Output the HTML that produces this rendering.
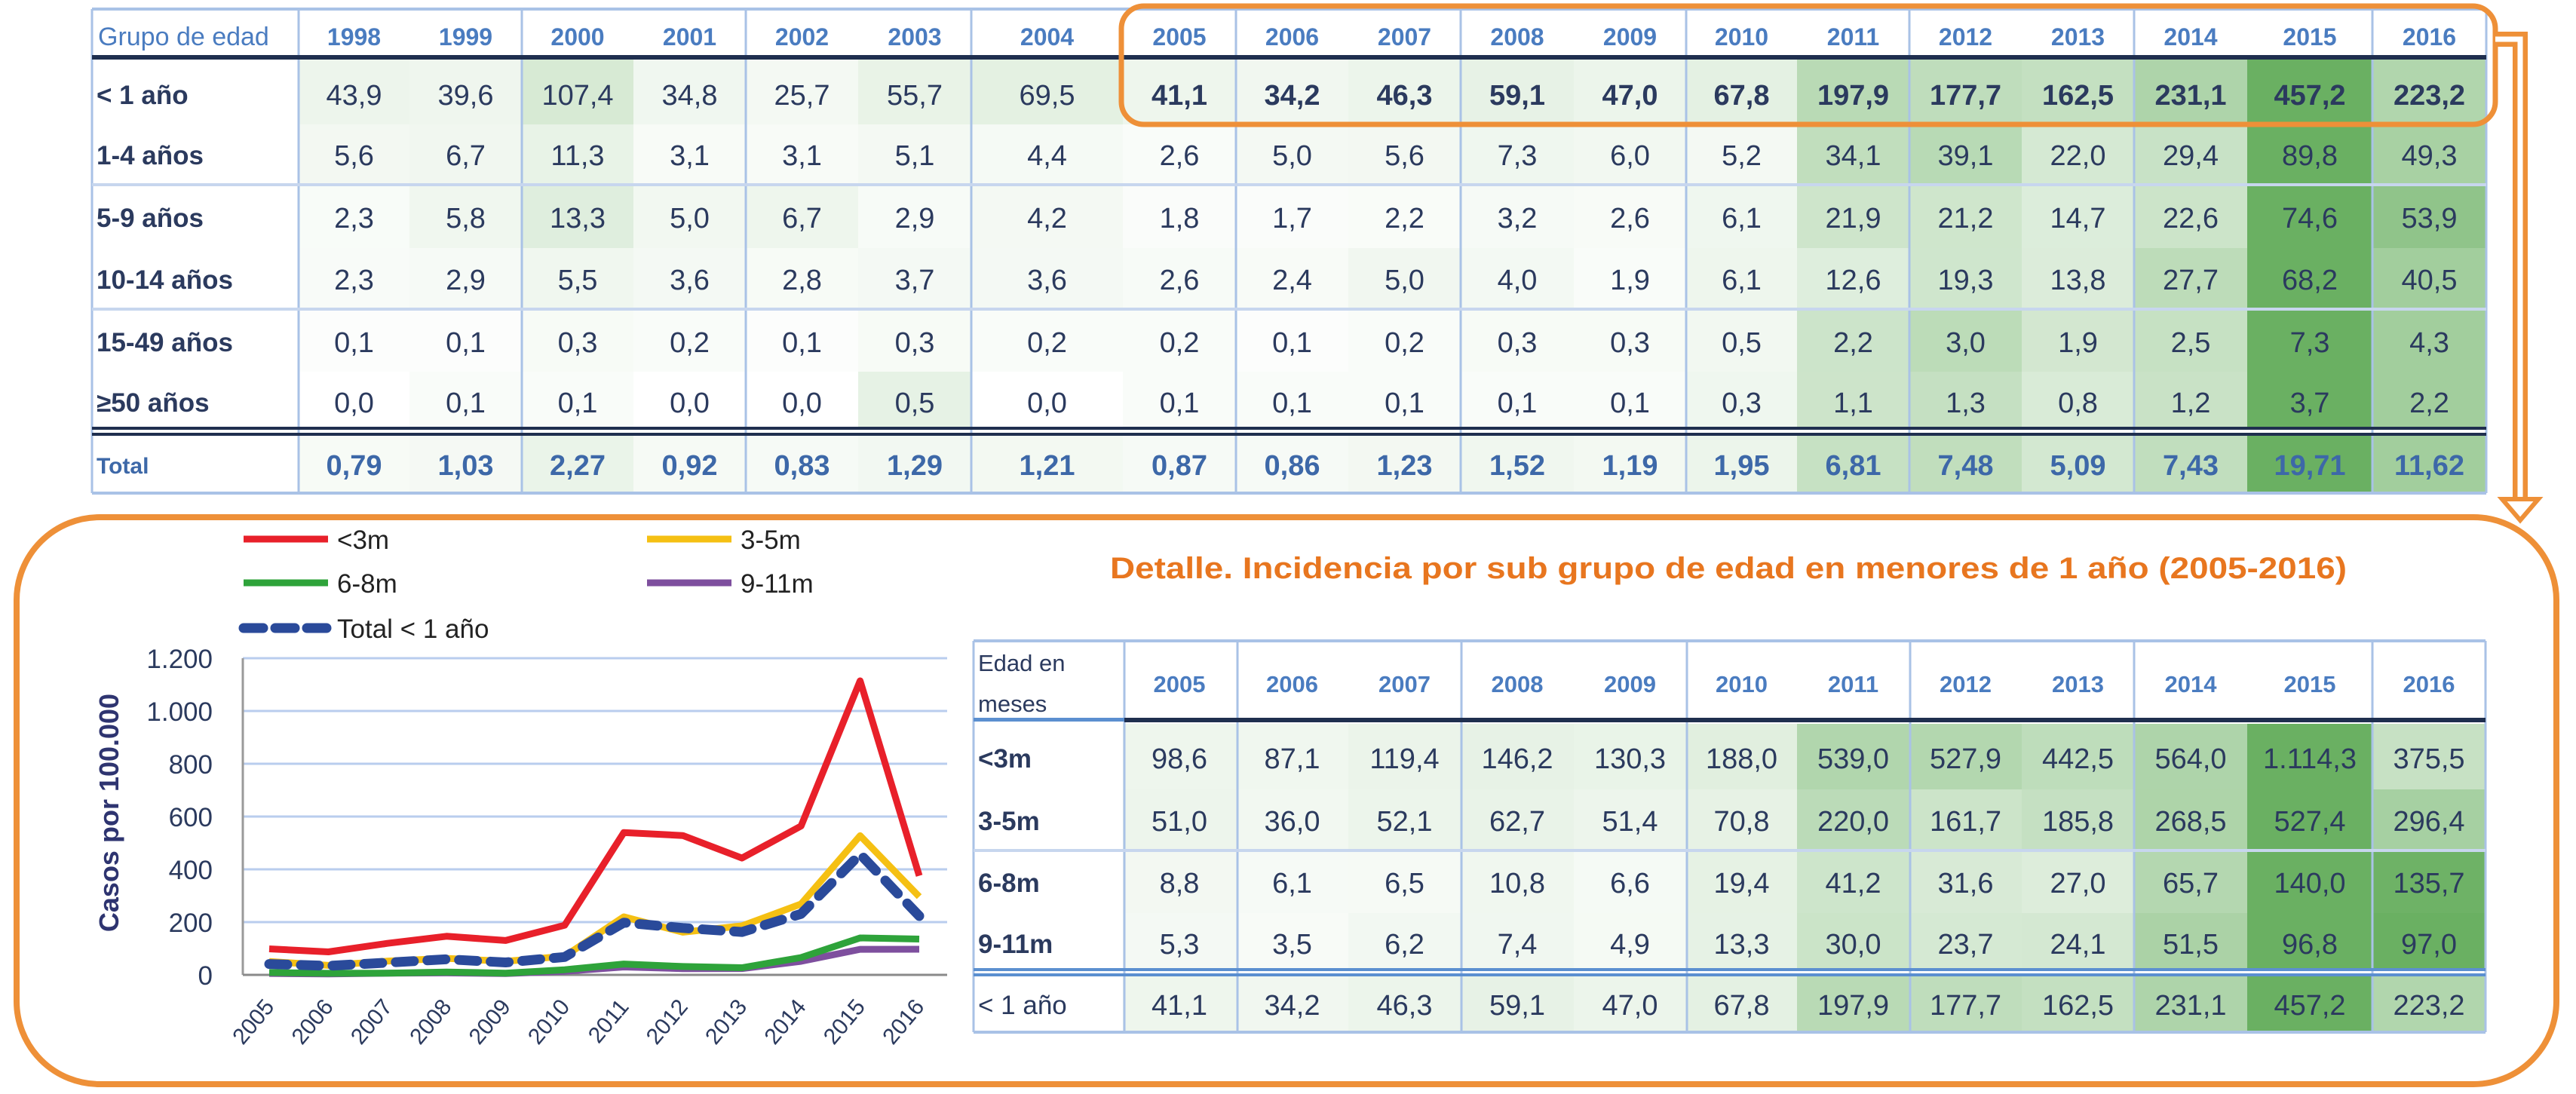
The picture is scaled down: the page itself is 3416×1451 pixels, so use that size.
<!DOCTYPE html>
<html><head><meta charset="utf-8"><style>
html,body{margin:0;padding:0;background:#fff;}
svg{display:block;font-family:"Liberation Sans",sans-serif;}
</style></head><body>
<svg id="root" width="3416" height="1451" viewBox="0 0 3416 1451" xmlns="http://www.w3.org/2000/svg"></svg>
<script>
// ===== Data: top table =====
const topYears = ["1998","1999","2000","2001","2002","2003","2004","2005","2006","2007","2008","2009","2010","2011","2012","2013","2014","2015","2016"];
const topGroups = ["< 1 año","1-4 años","5-9 años","10-14 años","15-49 años","≥50 años"];
const topLt1 = [43.9,39.6,107.4,34.8,25.7,55.7,69.5,41.1,34.2,46.3,59.1,47.0,67.8,197.9,177.7,162.5,231.1,457.2,223.2];
const top1to4 = [5.6,6.7,11.3,3.1,3.1,5.1,4.4,2.6,5.0,5.6,7.3,6.0,5.2,34.1,39.1,22.0,29.4,89.8,49.3];
const top5to9 = [2.3,5.8,13.3,5.0,6.7,2.9,4.2,1.8,1.7,2.2,3.2,2.6,6.1,21.9,21.2,14.7,22.6,74.6,53.9];
const top10to14 = [2.3,2.9,5.5,3.6,2.8,3.7,3.6,2.6,2.4,5.0,4.0,1.9,6.1,12.6,19.3,13.8,27.7,68.2,40.5];
const top15to49 = [0.1,0.1,0.3,0.2,0.1,0.3,0.2,0.2,0.1,0.2,0.3,0.3,0.5,2.2,3.0,1.9,2.5,7.3,4.3];
const top50plus = [0.0,0.1,0.1,0.0,0.0,0.5,0.0,0.1,0.1,0.1,0.1,0.1,0.3,1.1,1.3,0.8,1.2,3.7,2.2];
const topTotal = [0.79,1.03,2.27,0.92,0.83,1.29,1.21,0.87,0.86,1.23,1.52,1.19,1.95,6.81,7.48,5.09,7.43,19.71,11.62];
// ===== Data: detail table / chart =====
const detYears = ["2005","2006","2007","2008","2009","2010","2011","2012","2013","2014","2015","2016"];
const detGroups = ["<3m","3-5m","6-8m","9-11m"];
const lt3m = [98.6,87.1,119.4,146.2,130.3,188.0,539.0,527.9,442.5,564.0,1114.3,375.5];
const m3to5 = [51.0,36.0,52.1,62.7,51.4,70.8,220.0,161.7,185.8,268.5,527.4,296.4];
const m6to8 = [8.8,6.1,6.5,10.8,6.6,19.4,41.2,31.6,27.0,65.7,140.0,135.7];
const m9to11 = [5.3,3.5,6.2,7.4,4.9,13.3,30.0,23.7,24.1,51.5,96.8,97.0];
const totalLt1 = [41.1,34.2,46.3,59.1,47.0,67.8,197.9,177.7,162.5,231.1,457.2,223.2];
const yTicks = [0,200,400,600,800,1000,1200];
const yTickLabels = ["0","200","400","600","800","1.000","1.200"];

const NS="http://www.w3.org/2000/svg";
const root=document.getElementById('root');
function mk(tag,attrs,parent){const e=document.createElementNS(NS,tag);for(const k in attrs)e.setAttribute(k,attrs[k]);(parent||root).appendChild(e);return e;}
function fmt(v,d){let s=v.toFixed(d);let [i,f]=s.split('.');i=i.replace(/\B(?=(\d{3})+(?!\d))/g,'.');return f!==undefined?i+','+f:i;}
function green(t){t=Math.max(0,Math.min(1,t));const a=[255,255,255],b=[106,176,98];const c=a.map((x,i)=>Math.round(x+(b[i]-x)*Math.pow(t,0.9)));return `rgb(${c[0]},${c[1]},${c[2]})`;}

const NAVY="#2b3a5e", BLUE="#4a7cc0", LINE="#a9c2e6", DARK="#1f2f4f", ORANGE="#ee9038";
const VFS=38;

// ===== Top table =====
const colEdges=[122,396,543,692,840,989,1138,1288,1489,1639,1788,1937,2087,2236,2383,2532,2681,2830,2980,3146,3297];
const topRowEdges=[78,165,245,329,410,493,567];
const topRowCenters=[125,205,288,370,453,533];
const topRows=[topLt1,top1to4,top5to9,top10to14,top15to49,top50plus];
const gTop=mk('g',{});


topRows.forEach((row,r)=>{
  const mx=Math.max(...row);
  row.forEach((v,c)=>{
    const cell=mk('rect',{x:colEdges[c+1],y:topRowEdges[r],width:colEdges[c+2]-colEdges[c+1],height:topRowEdges[r+1]-topRowEdges[r],fill:green(v/mx)},gTop);
    
    
  });
});
{const mx=Math.max(...topTotal);topTotal.forEach((v,c)=>{const cell=mk('rect',{x:colEdges[c+1],y:578,width:colEdges[c+2]-colEdges[c+1],height:76,fill:green(v/mx)},gTop);

});}
[122,396,692,989,1288,1639,1937,2236,2532,2830,3146,3297].forEach(x=>{mk('line',{x1:x,y1:12,x2:x,y2:654,stroke:LINE,'stroke-width':3},gTop);});
[12,654].forEach(y=>mk('line',{x1:122,y1:y,x2:3297,y2:y,stroke:LINE,'stroke-width':4},gTop));
[245,410].forEach(y=>mk('line',{x1:122,y1:y,x2:3297,y2:y,stroke:"#c7d6ee",'stroke-width':4},gTop));
mk('rect',{x:122,y:73,width:3175,height:6,fill:DARK},gTop);
mk('rect',{x:122,y:566,width:3175,height:4,fill:DARK},gTop);
mk('rect',{x:122,y:574,width:3175,height:4,fill:DARK},gTop);
let t=mk('text',{x:130,y:60,'font-size':34,fill:BLUE},gTop);t.textContent="Grupo de edad";


topYears.forEach((y,c)=>{const cx=(colEdges[c+1]+colEdges[c+2])/2;const e=mk('text',{x:cx,y:60,'font-size':32,'font-weight':'bold',fill:BLUE,'text-anchor':'middle'},gTop);e.textContent=y;

});
topGroups.forEach((g,r)=>{const e=mk('text',{x:128,y:topRowCenters[r]+13,'font-size':35,'font-weight':'bold',fill:NAVY},gTop);e.textContent=g;

});
topRows.forEach((row,r)=>{row.forEach((v,c)=>{const cx=(colEdges[c+1]+colEdges[c+2])/2;const bold=(r===0&&c>=7);const e=mk('text',{x:cx,y:topRowCenters[r]+14,'font-size':VFS,'font-weight':bold?'bold':'normal',fill:NAVY,'text-anchor':'middle'},gTop);e.textContent=fmt(v,1);

});});
t=mk('text',{x:128,y:628,'font-size':30,'font-weight':'bold',fill:"#3d68a8"},gTop);t.textContent="Total";


topTotal.forEach((v,c)=>{const cx=(colEdges[c+1]+colEdges[c+2])/2;const e=mk('text',{x:cx,y:630,'font-size':VFS,'font-weight':'bold',fill:"#3d68a8",'text-anchor':'middle'},gTop);e.textContent=fmt(v,2);

});

let hb=mk('rect',{x:1487,y:8,width:1822,height:157,rx:30,fill:'none',stroke:ORANGE,'stroke-width':7});


let ar=mk('path',{d:'M3309 52 H3342 V668',fill:'none',stroke:ORANGE,'stroke-width':20,'stroke-linejoin':'miter'});


mk('path',{d:'M3309 52 H3342 V668',fill:'none',stroke:'#fff','stroke-width':7});
let ah=mk('polygon',{points:'3318,662 3366,662 3342,690',fill:'#fff',stroke:ORANGE,'stroke-width':6});



let bb=mk('rect',{x:22,y:686,width:3368,height:752,rx:110,fill:'none',stroke:ORANGE,'stroke-width':8});


t=mk('text',{x:2292,y:767,'font-size':40,'font-weight':'bold',fill:'#e8761f','text-anchor':'middle',textLength:1640,lengthAdjust:'spacingAndGlyphs'});
t.textContent="Detalle.  Incidencia por sub grupo de edad en menores de 1 año (2005-2016)";



// ===== Detail table =====
const dEdges=[1291,1489,1639,1788,1937,2087,2236,2383,2532,2681,2830,2980,3146,3296];
const dRowEdges=[960,1047,1128,1211,1286];
const dRowCenters=[1005,1088,1170,1251];
const dRows=[lt3m,m3to5,m6to8,m9to11];
const gDet=mk('g',{});


dRows.forEach((row,r)=>{const mx=Math.max(...row);row.forEach((v,c)=>{const cell=mk('rect',{x:dEdges[c+1],y:dRowEdges[r],width:dEdges[c+2]-dEdges[c+1],height:dRowEdges[r+1]-dRowEdges[r],fill:green(v/mx)},gDet);

});});
{const mx=Math.max(...totalLt1);totalLt1.forEach((v,c)=>{const cell=mk('rect',{x:dEdges[c+1],y:1294,width:dEdges[c+2]-dEdges[c+1],height:75,fill:green(v/mx)},gDet);

});}
[1291,1491,1641,1938,2237,2533,2830,3146,3296].forEach(x=>mk('line',{x1:x,y1:850,x2:x,y2:1369,stroke:LINE,'stroke-width':3},gDet));
[850,1369].forEach(y=>mk('line',{x1:1291,y1:y,x2:3296,y2:y,stroke:LINE,'stroke-width':4},gDet));
mk('line',{x1:1291,y1:1128,x2:3296,y2:1128,stroke:"#c7d6ee",'stroke-width':4},gDet);
mk('rect',{x:1291,y:952,width:200,height:5,fill:"#5b8fd0"},gDet);
mk('rect',{x:1491,y:952,width:1805,height:6,fill:DARK},gDet);
mk('rect',{x:1291,y:1284,width:2005,height:4,fill:"#5b8fd0"},gDet);
mk('rect',{x:1291,y:1291,width:2005,height:4,fill:"#5b8fd0"},gDet);
t=mk('text',{x:1297,y:890,'font-size':31,fill:NAVY},gDet);t.textContent="Edad en";


t=mk('text',{x:1297,y:944,'font-size':31,fill:NAVY},gDet);t.textContent="meses";


detYears.forEach((y,c)=>{const cx=(dEdges[c+1]+dEdges[c+2])/2;const e=mk('text',{x:cx,y:918,'font-size':31,'font-weight':'bold',fill:BLUE,'text-anchor':'middle'},gDet);e.textContent=y;

});
detGroups.forEach((g,r)=>{const e=mk('text',{x:1297,y:dRowCenters[r]+13,'font-size':35,'font-weight':'bold',fill:NAVY},gDet);e.textContent=g;

});
dRows.forEach((row,r)=>row.forEach((v,c)=>{const cx=(dEdges[c+1]+dEdges[c+2])/2;const e=mk('text',{x:cx,y:dRowCenters[r]+14,'font-size':VFS,fill:NAVY,'text-anchor':'middle'},gDet);e.textContent=fmt(v,1);

}));
t=mk('text',{x:1297,y:1345,'font-size':35,fill:NAVY},gDet);t.textContent="< 1 año";


totalLt1.forEach((v,c)=>{const cx=(dEdges[c+1]+dEdges[c+2])/2;const e=mk('text',{x:cx,y:1346,'font-size':VFS,fill:NAVY,'text-anchor':'middle'},gDet);e.textContent=fmt(v,1);

});

// ===== Line chart =====
const PL=322,PR=1256,PT=873,PB=1293,YMAX=1200;
const xs=i=>357+i*(1219-357)/(detYears.length-1);
const ys=v=>PB-v/YMAX*(PB-PT);
const gCh=mk('g',{});


yTicks.forEach((v,i)=>{
  if(v>0){const gl=mk('line',{x1:PL,y1:ys(v),x2:PR,y2:ys(v),stroke:'#b9cdee','stroke-width':3},gCh);
  
  }
  const e=mk('text',{x:282,y:ys(v)+13,'font-size':35,fill:NAVY,'text-anchor':'end'},gCh);e.textContent=yTickLabels[i];
  
  
});
mk('line',{x1:PL,y1:PT,x2:PL,y2:PB,stroke:'#9a9a9a','stroke-width':3},gCh);
let xa=mk('line',{x1:PL,y1:PB,x2:PR,y2:PB,stroke:'#8a8a8a','stroke-width':3},gCh);


detYears.forEach((y,i)=>{const e=mk('text',{x:xs(i)+8,y:1336,'font-size':30,fill:NAVY,'text-anchor':'end',transform:`rotate(-50 ${xs(i)+8} 1336)`},gCh);e.textContent=y;

});
t=mk('text',{x:0,y:0,'font-size':36,'font-weight':'bold',fill:'#2e3470','text-anchor':'middle',transform:'translate(157 1078) rotate(-90)'},gCh);t.textContent="Casos por 100.000";


function series(vals,color,w,dash,name){const d=vals.map((v,i)=>(i?'L':'M')+xs(i).toFixed(1)+' '+ys(v).toFixed(1)).join(' ');const p=mk('path',{d:d,fill:'none',stroke:color,'stroke-width':w,'stroke-linejoin':'round','stroke-dasharray':dash||'none','stroke-linecap':dash?'round':'butt'},gCh);

}
series(m9to11,'#7e4f9e',9,null,'line-9-11m');
series(m6to8,'#2ea33a',9,null,'line-6-8m');
series(lt3m,'#e8202a',9,null,'line-lt3m');
series(m3to5,'#f5c013',9,null,'line-3-5m');
series(totalLt1,'#2a4a9a',13,'24 18','line-total-lt1');
const legItems=[["<3m",'#e8202a',323,715,null],["3-5m",'#f5c013',858,715,null],["6-8m",'#2ea33a',323,773,null],["9-11m",'#7e4f9e',858,773,null],["Total < 1 año",'#2a4a9a',323,833,'26 16']];
legItems.forEach(([lab,col,x,y,dash])=>{
  const g=mk('g',{});
  
  
  mk('line',{x1:x,y1:y,x2:x+112,y2:y,stroke:col,'stroke-width':dash?13:9,'stroke-dasharray':dash||'none','stroke-linecap':dash?'round':'butt'},g);
  const e=mk('text',{x:x+124,y:y+13,'font-size':35,fill:'#222'},g);e.textContent=lab;
});
</script>
</body></html>
